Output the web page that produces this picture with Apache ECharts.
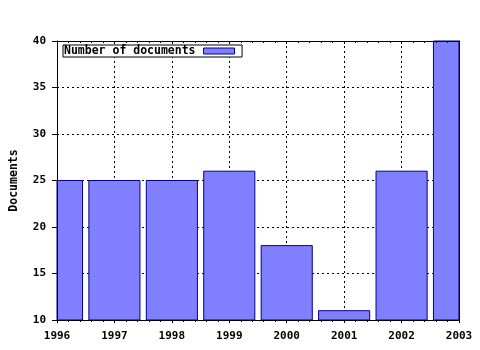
<!DOCTYPE html>
<html>
<head>
<meta charset="utf-8">
<script src="https://cdn.jsdelivr.net/npm/echarts@6/dist/echarts.min.js"></script>
<style>html,body{margin:0;padding:0;background:#fff;}#c{width:480px;height:350px;}</style>
</head>
<body>
<div id="c"></div>
<script>
const years = [1996, 1997, 1998, 1999, 2000, 2001, 2002, 2003];
const documents = [25, 25, 25, 26, 18, 11, 26, 40];
const seriesName = 'Number of documents';
const yAxisTitle = 'Documents';

const font = 'DejaVu Sans Mono';
const yMin = 10, yMax = 40;
const xMin = years[0], xMax = years[years.length - 1];
const chart = echarts.init(document.getElementById('c'), null, {renderer: 'canvas'});
const gridStyle = {show: true, lineStyle: {color: '#000', width: 1, type: [2, 3]}};
const barFill = '#8080ff', barBorder = '#00008c';
const blackLine = {show: true, onZero: false, lineStyle: {color: '#000', width: 1}};

function renderBar(params, api) {
  const x = api.value(0), v = api.value(1);
  const top = api.coord([x, v]);
  const base = api.coord([x, yMin]);
  const w = api.size([1, 0])[0] * 0.89;
  const rect = echarts.graphic.clipRectByRect(
    {x: top[0] - w / 2, y: top[1], width: w, height: base[1] - top[1]},
    {x: params.coordSys.x, y: params.coordSys.y, width: params.coordSys.width, height: params.coordSys.height}
  );
  if (!rect) return;
  return {
    type: 'rect',
    shape: rect,
    style: {fill: barFill, stroke: barBorder, lineWidth: 1}
  };
}

chart.setOption({
  animation: false,
  backgroundColor: '#fff',
  grid: {left: 57, right: 21, top: 41, bottom: 30, containLabel: false},
  legend: {
    left: 63, top: 45,
    align: 'right',
    icon: 'rect',
    itemWidth: 31, itemHeight: 6,
    itemStyle: {color: barFill, borderColor: barBorder, borderWidth: 1},
    backgroundColor: '#fff', borderColor: '#000', borderWidth: 1,
    padding: [0, 7, 0, 1],
    textStyle: {fontFamily: font, fontWeight: 'bold', fontSize: 11.5, color: '#000', padding: [0, 3, 0, 0], lineHeight: 12}
  },
  xAxis: [{
    type: 'value', min: xMin, max: xMax, interval: 1, z: 0,
    axisLine: {show: false},
    axisTick: {show: false},
    axisLabel: {color: '#000', fontFamily: font, fontWeight: 'bold', fontSize: 11, margin: 11, formatter: v => String(v)},
    splitLine: gridStyle
  }, {
    type: 'value', position: 'top', min: xMin, max: xMax, interval: 1, z: 5,
    axisLine: blackLine,
    axisTick: {show: true, inside: true, length: 3, lineStyle: {color: '#000'}},
    minorTick: {show: true, splitNumber: 5, length: 2, lineStyle: {color: '#000'}},
    axisLabel: {show: false},
    splitLine: {show: false}
  }, {
    type: 'value', position: 'bottom', min: xMin, max: xMax, interval: 1, z: 5,
    axisLine: blackLine,
    axisTick: {show: true, length: 3, lineStyle: {color: '#000'}},
    minorTick: {show: true, splitNumber: 5, length: 2, lineStyle: {color: '#000'}},
    axisLabel: {show: false},
    splitLine: {show: false}
  }],
  yAxis: [{
    type: 'value', min: yMin, max: yMax, interval: 5, z: 0,
    name: yAxisTitle, nameLocation: 'middle', nameRotate: 90, nameGap: 37,
    nameTextStyle: {color: '#000', fontFamily: font, fontWeight: 'bold', fontSize: 11.5},
    axisLine: {show: false},
    axisTick: {show: false},
    axisLabel: {color: '#000', fontFamily: font, fontWeight: 'bold', fontSize: 11, margin: 11},
    splitLine: gridStyle
  }, {
    type: 'value', position: 'right', min: yMin, max: yMax, interval: 5, z: 5,
    axisLine: blackLine,
    axisTick: {show: false}, axisLabel: {show: false}, splitLine: {show: false}
  }, {
    type: 'value', position: 'left', min: yMin, max: yMax, interval: 5, z: 5,
    axisLine: blackLine,
    axisTick: {show: true, length: 5, lineStyle: {color: '#000'}},
    axisLabel: {show: false}, splitLine: {show: false}
  }],
  series: [{
    name: seriesName,
    type: 'custom',
    xAxisIndex: 0, yAxisIndex: 0,
    renderItem: renderBar,
    itemStyle: {color: barFill, borderColor: barBorder, borderWidth: 1},
    encode: {x: 0, y: 1},
    z: 2,
    data: years.map((y, i) => [y, documents[i]])
  }]
});
</script>
</body>
</html>
